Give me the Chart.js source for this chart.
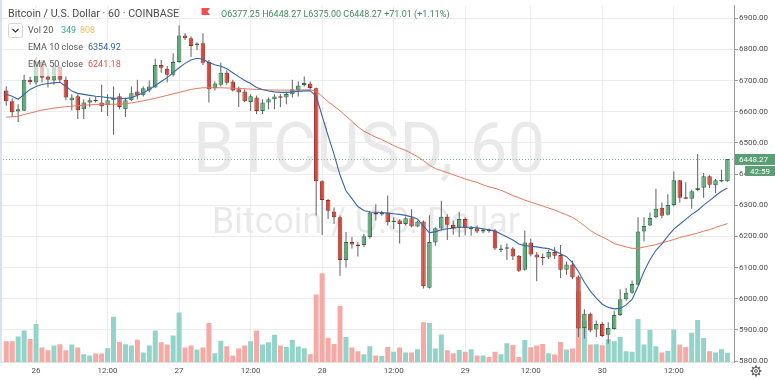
<!DOCTYPE html>
<html><head><meta charset="utf-8">
<script src="https://cdn.jsdelivr.net/npm/chart.js@4.4.0/dist/chart.umd.min.js"></script>
<style>html,body{margin:0;padding:0;background:#fff;overflow:hidden}canvas{display:block}</style>
</head><body>
<canvas id="c" width="775" height="379"></canvas>
<script>
// ---- data (hourly candles, BTC/USD, Coinbase) ----
const open = [6668,6634,6601,6603,6703,6694,6760,6713,6700,6744,
6703,6637,6650,6608,6630,6637,6630,6621,6637,6650,
6608,6637,6665,6653,6668,6678,6750,6738,6719,6760,
6845,6836,6814,6820,6760,6675,6687,6725,6697,6672,
6665,6631,6646,6602,6630,6640,6649,6646,6656,6668,
6686,6690,6675,6377,6317,6280,6261,6124,6182,6174,
6172,6198,6277,6270,6277,6245,6251,6240,6258,6232,
6248,6035,6180,6225,6263,6237,6227,6256,6223,6226,
6216,6221,6219,6156,6160,6161,6138,6093,6180,6142,
6132,6132,6150,6140,6093,6110,6071,5906,5952,5901,
5919,5884,5903,5948,5998,6019,6045,6216,6235,6261,
6292,6269,6301,6380,6324,6321,6349,6356,6393,6364,
6376,6377.25];
const high = [6682,6643,6624,6719,6712,6776,6766,6741,6757,6750,
6713,6656,6656,6640,6646,6649,6687,6656,6681,6659,
6646,6681,6703,6681,6700,6770,6766,6747,6788,6877,
6852,6842,6823,6852,6766,6697,6757,6732,6703,6681,
6672,6656,6652,6640,6646,6656,6656,6665,6703,6697,
6713,6697,6678,6380,6320,6293,6267,6214,6198,6182,
6208,6282,6303,6282,6331,6261,6255,6264,6287,6251,
6251,6268,6229,6314,6271,6250,6279,6261,6234,6235,
6225,6225,6224,6173,6177,6166,6140,6219,6192,6150,
6145,6156,6165,6172,6119,6122,6075,5966,5956,5930,
5925,5924,5961,6030,6035,6058,6261,6261,6277,6353,
6309,6335,6408,6382,6374,6350,6464,6403,6396,6384,
6414,6448.27];
const low = [6619,6583,6567,6602,6687,6687,6694,6678,6687,6694,
6637,6605,6577,6577,6615,6630,6599,6586,6526,6608,
6583,6634,6640,6649,6662,6675,6725,6694,6713,6757,
6830,6776,6798,6750,6630,6668,6681,6687,6665,6615,
6631,6602,6593,6593,6608,6608,6615,6624,6646,6649,
6681,6671,6267,6204,6256,6240,6074,6100,6161,6135,
6166,6192,6251,6266,6235,6224,6177,6235,6229,6229,
6033,6033,6170,6219,6188,6205,6198,6203,6202,6211,
6210,6212,6156,6150,6124,6124,6086,6090,6136,6056,
6108,6127,6127,6066,6077,6062,5877,5872,5892,5877,
5877,5856,5900,5945,5993,6016,6043,6184,6233,6258,
6258,6267,6296,6308,6319,6289,6345,6324,6355,6338,
6374,6375.00];
const close = [6634,6598,6608,6703,6695,6760,6709,6703,6744,6703,
6646,6646,6605,6630,6637,6634,6618,6637,6645,6615,
6637,6659,6653,6675,6681,6750,6741,6719,6760,6845,
6836,6811,6818,6757,6672,6691,6725,6693,6668,6662,
6634,6650,6602,6630,6640,6649,6645,6657,6672,6684,
6692,6676,6377,6317,6282,6261,6124,6182,6174,6169,
6200,6277,6270,6277,6245,6251,6240,6258,6232,6248,
6040,6182,6226,6263,6237,6227,6256,6226,6226,6216,
6219,6217,6161,6161,6162,6135,6090,6180,6142,6132,
6130,6150,6138,6093,6110,6068,5904,5952,5898,5919,
5880,5906,5948,5998,6019,6047,6216,6233,6259,6289,
6266,6301,6380,6324,6321,6345,6356,6393,6366,6380,
6377.25,6448.27];
const volume = [788,788,975,1200,874,1451,551,450,626,675,
450,664,551,300,251,326,326,525,1725,761,
675,626,851,364,626,1200,750,664,1013,1886,
551,626,476,551,1489,338,814,600,251,514,
626,788,1200,664,750,1039,626,574,851,589,
525,300,2576,3386,926,686,2138,949,551,413,
300,600,251,225,574,386,551,364,364,488,
1511,1489,514,1050,450,338,461,386,488,251,
251,188,386,300,713,649,188,836,563,626,
686,338,289,761,476,514,2700,1575,664,675,
638,863,788,949,413,386,1639,664,1226,600,
364,424,1238,664,574,1114,1601,911,413,364,
488,349];
const ema10 = [6655.8,6649.5,6640.0,6655.8,6671.6,6681.0,6687.4,6690.5,6692.7,6694.6,
6682.0,6666.2,6658.9,6655.8,6652.6,6649.5,6647.9,6645.4,6643.8,6643.1,
6642.2,6645.4,6652.6,6661.2,6671.6,6684.2,6696.8,6709.5,6725.3,6741.0,
6755.3,6766.3,6771.7,6768.5,6757.8,6750.5,6745.8,6737.9,6725.3,6712.6,
6700.0,6690.5,6677.9,6671.6,6666.8,6663.7,6662.1,6662.1,6663.7,6665.3,
6666.8,6667.5,6649.5,6586.3,6523.1,6463.1,6396.8,6346.3,6321.0,6295.8,
6283.1,6278.4,6277.4,6276.8,6274.6,6272.7,6270.5,6267.3,6262.6,6255.7,
6232.6,6211.5,6215.2,6221.5,6224.7,6226.3,6229.4,6229.4,6229.4,6227.9,
6224.1,6221.5,6216.8,6207.3,6197.9,6188.4,6175.8,6170.4,6168.5,6166.3,
6163.1,6160.6,6153.7,6144.2,6134.7,6115.8,6087.3,6052.6,6024.2,6002.1,
5982.2,5972.1,5967.3,5968.9,5980.0,5997.3,6040.0,6087.3,6125.2,6155.2,
6175.8,6201.0,6223.1,6238.9,6254.7,6270.5,6283.1,6300.5,6314.7,6330.5,
6344.7,6354.92];
const ema50 = [6582.2,6583.8,6585.4,6591.0,6595.8,6600.5,6605.3,6608.4,6611.6,6613.8,
6616.3,6617.9,6619.5,6621.0,6622.0,6623.3,6624.2,6624.2,6624.2,6624.2,
6625.8,6628.3,6631.5,6635.3,6639.0,6643.1,6647.9,6652.6,6657.4,6662.1,
6666.8,6671.6,6674.7,6676.9,6676.9,6676.9,6676.9,6676.3,6675.4,6674.7,
6673.8,6672.5,6671.6,6670.9,6670.0,6669.7,6669.4,6669.4,6669.4,6669.7,
6670.0,6670.6,6665.3,6649.5,6632.1,6617.9,6603.1,6586.3,6568.9,6551.6,
6537.4,6527.9,6518.4,6510.5,6501.0,6491.6,6483.0,6475.8,6466.3,6455.9,
6442.6,6428.4,6417.4,6411.0,6404.7,6397.8,6391.1,6384.2,6378.5,6373.1,
6365.2,6358.9,6354.2,6347.9,6340.0,6330.5,6324.2,6316.3,6310.0,6303.7,
6297.3,6291.0,6284.7,6276.8,6268.9,6261.0,6248.4,6234.2,6219.0,6207.3,
6197.9,6188.4,6176.7,6171.7,6166.3,6161.6,6161.6,6165.7,6169.5,6173.6,
6178.9,6184.3,6190.0,6196.3,6201.0,6205.8,6210.5,6216.8,6221.6,6228.5,
6234.8,6241.18];
// time axis: candle index of each labelled hour, and its label
const tickPositions = [5,17,29,41,53,65,77,88,100,112];
const tickLabels = ['26','12:00','27','12:00','28','12:00','29','12:00','30','12:00'];
// header / legend texts
const titleText = 'Bitcoin / U.S. Dollar · 60 · COINBASE';
const ohlcText = 'O6377.25 H6448.27 L6375.00 C6448.27 +71.01 (+1.11%)';
const volLegend = ['Vol 20', '349', '808'];
const ema10Legend = ['EMA 10 close', '6354.92'];
const ema50Legend = ['EMA 50 close', '6241.18'];
const lastPrice = 6448.27;
const countdown = '42:59';
const watermark1 = 'BTCUSD, 60';
const watermark2 = 'Bitcoin / U.S. Dollar';

// ---- styling ----
const FONT = 'Roboto, "Open Sans", sans-serif';
const UP_F = '#62a97c', UP_B = '#2f7249', DN_F = '#d24a3e', DN_B = '#952c24';
const WICK = '#6a6a6a';
const V_UP = '#94d3c9', V_DN = '#f5aaa6';
const BOX_G = '#5a9e74';

const idx = open.map((_, i) => i);
const isUp = i => close[i] >= open[i];

const overlay = {
  id: 'overlay',
  beforeDraw(chart) {
    const ctx = chart.ctx;
    ctx.save();
    ctx.fillStyle = '#fff';
    ctx.fillRect(0, 0, chart.width, chart.height);
    ctx.fillStyle = 'rgba(0,0,0,0.085)';
    ctx.textAlign = 'center';
    ctx.textBaseline = 'alphabetic';
    ctx.font = '70px ' + FONT;
    ctx.fillText(watermark1, 369, 172, 352);
    ctx.font = '37px ' + FONT;
    ctx.fillText(watermark2, 366, 233, 308);
    ctx.restore();
  },
  beforeDatasetsDraw(chart) {
    const ctx = chart.ctx, a = chart.chartArea;
    const y = Math.round(chart.scales.y.getPixelForValue(lastPrice)) + 0.5;
    ctx.save();
    ctx.strokeStyle = '#7fb896';
    ctx.lineWidth = 1;
    ctx.setLineDash([1, 2]);
    ctx.beginPath(); ctx.moveTo(a.left, y); ctx.lineTo(a.right, y); ctx.stroke();
    ctx.restore();
  },
  afterDraw(chart) {
    const ctx = chart.ctx, a = chart.chartArea;
    ctx.save();
    // left pane edge
    ctx.fillStyle = '#dde2ea';
    ctx.fillRect(0, 0, 2, a.bottom);
    // header line
    ctx.textAlign = 'left'; ctx.textBaseline = 'alphabetic';
    ctx.font = '10.7px ' + FONT; ctx.fillStyle = '#4a4a4a';
    ctx.fillText(titleText, 8, 16.5);
    // flag
    ctx.fillStyle = '#ef4f4f';
    ctx.beginPath(); ctx.moveTo(201.5, 8); ctx.lineTo(210, 8); ctx.lineTo(207.5, 11.5); ctx.lineTo(210, 15);
    ctx.lineTo(201.5, 15); ctx.closePath(); ctx.fill();
    ctx.font = '9px ' + FONT; ctx.fillStyle = '#428a5c';
    ctx.fillText(ohlcText, 221, 16.5, 238);
    // legend rows background
    ctx.fillStyle = 'rgba(255,255,255,0.65)';
    ctx.fillRect(25, 23, 72, 14);
    ctx.fillRect(25, 40, 98, 14);
    ctx.fillRect(25, 56, 98, 20);
    // dropdown box
    ctx.strokeStyle = '#d4d4d4'; ctx.lineWidth = 1;
    ctx.beginPath(); ctx.roundRect(8.5, 23.5, 14, 14, 2); ctx.stroke();
    ctx.strokeStyle = '#333'; ctx.lineWidth = 1.1;
    ctx.beginPath(); ctx.moveTo(12.5, 29); ctx.lineTo(15.5, 32); ctx.lineTo(18.5, 29); ctx.stroke();
    ctx.font = '9px ' + FONT;
    ctx.fillStyle = '#555'; ctx.fillText(volLegend[0], 28, 33);
    ctx.fillStyle = '#36a89a'; ctx.fillText(volLegend[1], 61, 33);
    ctx.fillStyle = '#f1c064'; ctx.fillText(volLegend[2], 80, 33);
    ctx.fillStyle = '#555'; ctx.fillText(ema10Legend[0], 28, 50);
    ctx.fillStyle = '#2f5d9c'; ctx.fillText(ema10Legend[1], 88, 50);
    ctx.fillStyle = '#555'; ctx.fillText(ema50Legend[0], 28, 67);
    ctx.fillStyle = '#d9574a'; ctx.fillText(ema50Legend[1], 88, 67);
    // price label boxes on the axis
    const y = Math.round(chart.scales.y.getPixelForValue(lastPrice));
    ctx.fillStyle = BOX_G;
    ctx.fillRect(a.right + 1, y - 5, chart.width - a.right - 1, 11);
    ctx.fillRect(745, y + 7, chart.width - 745, 10);
    ctx.fillStyle = '#fff'; ctx.font = '8px ' + FONT; ctx.textBaseline = 'middle';
    ctx.fillText(lastPrice.toFixed(2), a.right + 5, y + 0.5);
    ctx.fillText(countdown, 750, y + 12.5);
    // gear icon
    const gx = 756, gy = 371;
    ctx.strokeStyle = '#555'; ctx.lineWidth = 1;
    ctx.beginPath(); ctx.arc(gx, gy, 3.6, 0, Math.PI * 2); ctx.stroke();
    ctx.beginPath(); ctx.arc(gx, gy, 1.4, 0, Math.PI * 2); ctx.stroke();
    ctx.lineWidth = 1.6;
    for (let k = 0; k < 8; k++) {
      const t = k * Math.PI / 4;
      ctx.beginPath();
      ctx.moveTo(gx + Math.cos(t) * 3.4, gy + Math.sin(t) * 3.4);
      ctx.lineTo(gx + Math.cos(t) * 5.4, gy + Math.sin(t) * 5.4);
      ctx.stroke();
    }
    ctx.restore();
  }
};

new Chart(document.getElementById('c'), {
  type: 'bar',
  data: {
    datasets: [
      { type: 'line', label: 'EMA 10 close', data: idx.map(i => ({ x: i, y: ema10[i] })),
        borderColor: '#3a66a5', borderWidth: 1.1, pointRadius: 0, tension: 0, yAxisID: 'y', order: 0 },
      { type: 'line', label: 'EMA 50 close', data: idx.map(i => ({ x: i, y: ema50[i] })),
        borderColor: '#e5765f', borderWidth: 1, pointRadius: 0, tension: 0, yAxisID: 'y', order: 0 },
      { label: 'Candles', data: idx.map(i => ({ x: i, y: [open[i], close[i]] })),
        backgroundColor: idx.map(i => isUp(i) ? UP_F : DN_F),
        borderColor: idx.map(i => isUp(i) ? UP_B : DN_B),
        borderWidth: 1, borderSkipped: false, minBarLength: 1.5,
        grouped: false, barPercentage: 0.76, categoryPercentage: 1, yAxisID: 'y', order: 1 },
      { label: 'Wicks', data: idx.map(i => ({ x: i, y: [low[i], high[i]] })),
        backgroundColor: WICK, borderWidth: 0,
        grouped: false, barPercentage: 0.18, categoryPercentage: 1, yAxisID: 'y', order: 2 },
      { label: 'Volume', data: idx.map(i => ({ x: i, y: volume[i] })),
        backgroundColor: idx.map(i => isUp(i) ? V_UP : V_DN), borderWidth: 0,
        grouped: false, barPercentage: 0.84, categoryPercentage: 1, yAxisID: 'yv', order: 3 }
    ]
  },
  options: {
    responsive: false, animation: false, devicePixelRatio: 1,
    layout: { padding: 0 },
    plugins: { legend: { display: false }, tooltip: { enabled: false } },
    scales: {
      x: {
        type: 'linear', min: -1.048, max: 122.1, offset: false,
        grid: { color: '#ececec', drawTicks: false, offset: false },
        border: { color: '#e2e2e2' },
        ticks: { autoSkip: false, maxRotation: 0, color: '#4d4d4d', padding: 4,
          font: { family: FONT, size: 8 },
          callback: v => { const k = tickPositions.indexOf(v); return k >= 0 ? tickLabels[k] : ''; } },
        afterBuildTicks: s => { s.ticks = tickPositions.map(v => ({ value: v })); },
        afterFit: s => { s.height = 17; }
      },
      y: {
        type: 'linear', position: 'right', min: 5796.8, max: 6940,
        grid: { color: '#ececec', tickColor: '#999', tickLength: 4 },
        border: { color: '#9a9a9a' },
        ticks: { stepSize: 100, includeBounds: false, color: '#4d4d4d', padding: 1,
          font: { family: FONT, size: 8 }, callback: v => v.toFixed(2) },
        afterFit: s => { s.width = 41; }
      },
      yv: { type: 'linear', display: false, min: 0, max: 13575 }
    }
  },
  plugins: [overlay]
});
</script>
</body></html>
